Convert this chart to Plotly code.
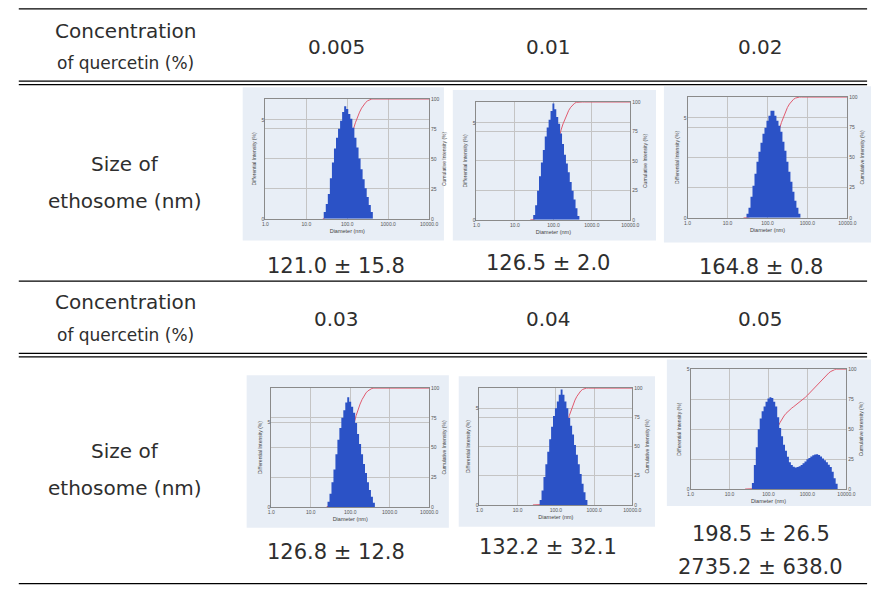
import numpy as np
import plotly.graph_objects as go

W, H = 883, 599

# ---------------- data ----------------
concentrations = ["0.005", "0.01", "0.02", "0.03", "0.04", "0.05"]
size_results = [["121.0 ± 15.8"], ["126.5 ± 2.0"], ["164.8 ± 0.8"],
                ["126.8 ± 12.8"], ["132.2 ± 32.1"], ["198.5 ± 26.5", "2735.2 ± 638.0"]]
row_label_conc = ["Concentration", "of quercetin (%)"]
row_label_size = ["Size of", "ethosome (nm)"]

x_tick_values = [1, 10, 100, 1000, 10000]
x_tick_labels = ["1.0", "10.0", "100.0", "1000.0", "10000.0"]
cum_tick_values = [0, 25, 50, 75, 100]
diff_tick_values = [0, 5]

# DLS size bins (nm)
diameter_nm = [25.1, 28.2, 31.6, 35.5, 39.8, 44.7, 50.1, 56.2, 63.1, 70.8,
               79.4, 89.1, 100, 112, 126, 141, 158, 178, 200, 224,
               251, 282, 316, 355, 398, 447, 501, 562, 631, 708,
               794, 891, 1000, 1122, 1259, 1413, 1585, 1778, 1995, 2239,
               2512, 2818, 3162, 3548, 3981, 4467, 5012, 5623, 6310]

intensity_0005 = [0, 0.35, 0.75, 1.25, 2.05, 2.85, 3.55, 4.1, 4.55, 4.95, 5.4, 5.68, 5.55, 5.3,
                  5.05, 4.6, 4.1, 3.6, 3.05, 2.5, 2.0, 1.55, 1.1, 0.7, 0.35] + [0] * 24
intensity_001 = [0, 0, 0.25, 0.75, 1.5, 2.25, 2.95, 3.6, 4.29, 4.75, 5.15, 5.6, 5.99, 5.7, 5.3,
                 4.95, 4.45, 3.9, 3.35, 2.9, 2.45, 1.95, 1.5, 1.05, 0.6, 0.2] + [0] * 23
intensity_002 = [0, 0, 0.2, 0.5, 1.05, 1.6, 2.2, 2.8, 3.3, 3.75, 4.2, 4.5, 4.85, 5.1, 5.35, 5.35,
                 5.1, 4.85, 4.6, 4.3, 3.8, 3.35, 2.8, 2.3, 1.8, 1.3, 0.85, 0.5, 0.2] + [0] * 20
intensity_003 = [0, 0.3, 0.78, 1.45, 2.2, 3.1, 3.95, 4.65, 5.25, 5.7, 6.15, 6.46, 6.2, 5.9,
                 5.55, 4.95, 4.3, 3.7, 3.1, 2.53, 2.0, 1.45, 1.0, 0.6, 0.25] + [0] * 24
intensity_004 = [0, 0, 0, 0, 0.25, 0.75, 1.45, 2.1, 2.75, 3.4, 4.05, 4.6, 5.0, 5.35, 5.7, 5.98,
                 5.7, 5.35, 5.0, 4.5, 4.1, 3.65, 3.1, 2.6, 2.1, 1.6, 1.1, 0.65, 0.25] + [0] * 20
intensity_005 = [0, 0, 0, 0, 0.25, 1.0, 1.75, 2.5, 2.95, 3.25, 3.45, 3.65, 3.78, 3.83, 3.8,
                 3.65, 3.45, 3.0, 2.55, 2.2, 1.85, 1.6, 1.35, 1.12, 1.0, 0.93, 0.9, 0.92,
                 0.95, 1.0, 1.08, 1.15, 1.24, 1.3, 1.36, 1.41, 1.44, 1.45, 1.42, 1.36, 1.28,
                 1.2, 1.12, 1.02, 0.92, 0.72, 0.45, 0.22, 0]
intensities = [intensity_0005, intensity_001, intensity_002,
               intensity_003, intensity_004, intensity_005]
diff_axis_max = [6.05, 6.07, 6.04, 7.0, 6.05, 5.0]

# ---------------- layout geometry (pixels) ----------------
panel_boxes = [(243, 85, 447, 240), (456, 88, 662, 240), (670, 84, 880, 242),
               (247, 376, 452, 530), (462, 377, 661, 529), (673, 360, 880, 508)]
plot_boxes = [(266, 97, 432, 218), (480, 100, 636, 219), (694, 95, 856, 217),
              (272, 389, 432, 509), (483, 389, 638, 507), (697, 370, 855, 491)]
col_centers = [338, 553, 768]


def px(x):
    return x / W


def py(y):
    return 1 - y / H


TXT = "#2e2e2e"
MAIN_FONT = "DejaVu Sans"
SMALL = dict(family="Liberation Sans", size=5, color="#555555")
BLUE = "#2b52c6"
RED = "#e05a6e"
GRID = "#c4c4c4"

fig = go.Figure()
layout = dict(width=W, height=H, autosize=False,
              margin=dict(l=0, r=0, t=0, b=0),
              paper_bgcolor="white", plot_bgcolor="white",
              showlegend=False, shapes=[], annotations=[])

for i in range(6):
    n = i + 1
    xname = "x" if n == 1 else f"x{n}"
    xkey = "xaxis" if n == 1 else f"xaxis{n}"
    yb = 2 * n - 1
    yo = 2 * n
    ybname = "y" if yb == 1 else f"y{yb}"
    ybkey = "yaxis" if yb == 1 else f"yaxis{yb}"
    yoname = f"y{yo}"
    yokey = f"yaxis{yo}"

    x0, y0, x1, y1 = plot_boxes[i]
    p0, q0, p1, q1 = panel_boxes[i]

    # panel background
    layout["shapes"].append(dict(type="rect", xref="paper", yref="paper",
                                 x0=px(p0), x1=px(p1), y0=py(q1), y1=py(q0),
                                 fillcolor="#e8eef6", line=dict(width=0), layer="below"))

    inten = np.array(intensities[i], dtype=float)
    cum = 100 * np.cumsum(inten) / inten.sum()
    cx = list(diameter_nm) + [x_tick_values[-1]]
    cy = list(cum) + [100]

    fig.add_trace(go.Scatter(x=cx, y=cy, xaxis=xname, yaxis=ybname, mode="lines",
                             line=dict(color=RED, width=1), hoverinfo="skip"))
    fig.add_trace(go.Scatter(x=diameter_nm, y=intensities[i], xaxis=xname, yaxis=yoname,
                             mode="lines", line=dict(color=BLUE, width=0, shape="hvh"),
                             fill="tozeroy", fillcolor=BLUE, hoverinfo="skip"))

    layout[xkey] = dict(type="log", range=[0, 4], domain=[px(x0), px(x1)], anchor=ybname,
                        tickvals=x_tick_values, ticktext=x_tick_labels, tickfont=SMALL,
                        showgrid=True, gridcolor=GRID, gridwidth=0.8,
                        showline=True, linecolor="#8a8a8a", linewidth=0.8, mirror=True,
                        ticks="", zeroline=False,
                        title=dict(text="Diameter (nm)", font=dict(family="Liberation Sans", size=5.5, color="#444"),
                                   standoff=3))
    layout[ybkey] = dict(range=[0, 100], domain=[py(y1), py(y0)], anchor=xname, side="right",
                         tickvals=cum_tick_values, tickfont=SMALL,
                         showgrid=True, gridcolor=GRID, gridwidth=0.8,
                         showline=True, linecolor="#8a8a8a", linewidth=0.8, mirror=True,
                         ticks="", zeroline=False,
                         title=dict(text="Cumulative Intensity (%)", font=dict(family="Liberation Sans", size=5, color="#444"),
                                    standoff=3))
    layout[yokey] = dict(range=[0, diff_axis_max[i]], overlaying=ybname, anchor=xname, side="left",
                         tickvals=diff_tick_values, tickfont=SMALL,
                         showgrid=True, gridcolor=GRID, gridwidth=0.8,
                         showline=False, ticks="", zeroline=False,
                         title=dict(text="Differential Intensity (%)", font=dict(family="Liberation Sans", size=5, color="#444"),
                                    standoff=4))

# ---------------- table rules ----------------
def hline(y, w=1.3):
    layout["shapes"].append(dict(type="line", xref="paper", yref="paper",
                                 x0=px(16), x1=px(876), y0=py(y), y1=py(y),
                                 line=dict(color="black", width=w)))


for y in [6, 79, 82.5, 281, 354, 357.5, 586.5]:
    hline(y)

# ---------------- table text ----------------
def txt(x, y, s, size=20):
    layout["annotations"].append(dict(xref="paper", yref="paper", x=px(x), y=py(y),
                                      text=s, showarrow=False, xanchor="center", yanchor="middle",
                                      font=dict(family=MAIN_FONT, size=size, color=TXT)))


for base in (0, 274):
    txt(124, 28 + base, row_label_conc[0], 20)
    txt(124, 61 + base, row_label_conc[1], 17)

txt(124, 163, row_label_size[0])
txt(124, 200, row_label_size[1])
txt(124, 453, row_label_size[0])
txt(124, 490, row_label_size[1])

conc_y = [44, 44, 44, 319, 319, 319]
for i, c in enumerate(concentrations):
    txt(col_centers[i % 3], conc_y[i], c, 20)

result_y = [[266], [263], [267], [555], [550], [536, 570]]
for i, vals in enumerate(size_results):
    for s, y in zip(vals, result_y[i]):
        txt(col_centers[i % 3], y, s, 21)

fig.update_layout(**layout)
fig.write_html("out.html", config={"displayModeBar": False},
               post_script="document.body.style.margin='0';document.body.style.overflow='hidden';")
